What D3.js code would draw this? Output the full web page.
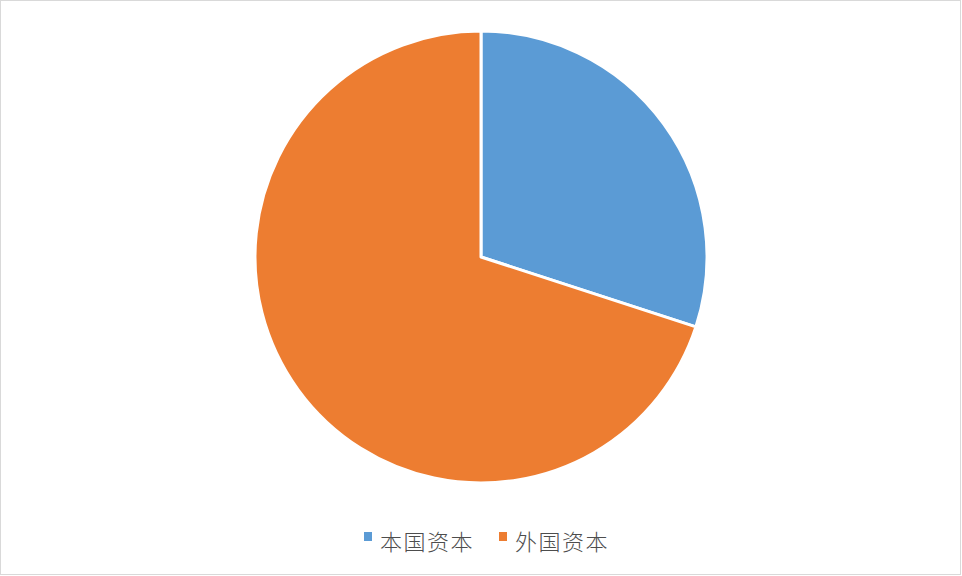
<!DOCTYPE html>
<html>
<head>
<meta charset="utf-8">
<script src="https://cdn.jsdelivr.net/npm/d3@7"></script>
<style>
  html, body { margin: 0; padding: 0; background: #fff; }
  svg { display: block; }
</style>
</head>
<body>
<svg id="canvas"></svg>
<script>
// Data
var categories = ['本国资本', '外国资本'];
var shares = [30, 70];
var colours = ['#5B9BD5', '#ED7D31'];

var width = 962, height = 576;
var cx = 481, cy = 257, radius = 226;

var svg = d3.select('#canvas').attr('width', width).attr('height', height);

// frame
svg.append('rect')
  .attr('x', 0.5).attr('y', 0.5)
  .attr('width', width - 2).attr('height', height - 2)
  .attr('fill', '#fff').attr('stroke', '#d9d9d9').attr('stroke-width', 1);

var data = categories.map((c, i) => ({ name: c, value: shares[i], colour: colours[i] }));

var pie = d3.pie().value(d => d.value).sort(null);
var arc = d3.arc().innerRadius(0).outerRadius(radius);

var g = svg.append('g').attr('transform', 'translate(' + cx + ',' + cy + ')');
g.selectAll('path')
  .data(pie(data))
  .enter().append('path')
  .attr('d', arc)
  .attr('fill', d => d.data.colour)
  .attr('stroke', '#fff')
  .attr('stroke-width', 3)
  .attr('stroke-linejoin', 'round');

// legend
var legendX = [364, 499];
var legend = svg.append('g');
data.forEach((d, i) => {
  legend.append('rect')
    .attr('x', legendX[i]).attr('y', 532)
    .attr('width', 8).attr('height', 9)
    .attr('fill', d.colour);
  legend.append('text')
    .attr('x', legendX[i] + 16).attr('y', 545)
    .attr('font-family', '"Noto Sans CJK SC", sans-serif')
    .attr('font-size', 22)
    .attr('font-weight', 300)
    .attr('letter-spacing', 1.5)
    .attr('fill', '#4d4d4d')
    .attr('dominant-baseline', 'middle')
    .attr('dy', '-0.05em')
    .text(d.name);
});
</script>
</body>
</html>
